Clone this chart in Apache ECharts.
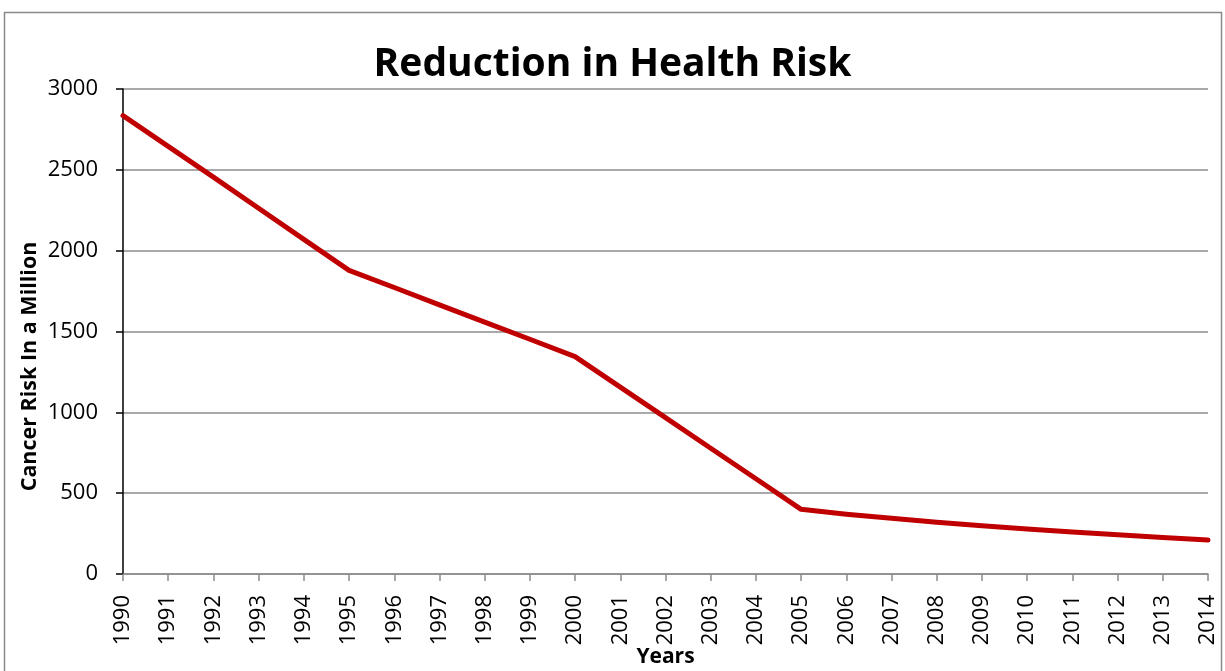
<!DOCTYPE html>
<html>
<head>
<meta charset="utf-8">
<script src="https://cdn.jsdelivr.net/npm/echarts@6/dist/echarts.min.js"></script>
<style>html,body{margin:0;padding:0;background:#fff;}#c{width:1225px;height:671px;}</style>
</head>
<body>
<div id="c"></div>
<script>
const years = ['1990','1991','1992','1993','1994','1995','1996','1997','1998','1999','2000','2001','2002','2003','2004','2005','2006','2007','2008','2009','2010','2011','2012','2013','2014'];
const cancerRisk = [2835, 2645, 2455, 2262, 2070, 1878, 1772, 1665, 1558, 1452, 1345, 1156, 967, 778, 589, 400, 370, 345, 320, 298, 278, 260, 243, 226, 210];
const yTicks = {min: 0, max: 3000, interval: 500};

const chart = echarts.init(document.getElementById('c'));
chart.setOption({
  animation: false,
  backgroundColor: '#fff',
  textStyle: {fontFamily: 'Open Sans'},
  graphic: [{
    type: 'rect', silent: true,
    shape: {x: 4.5, y: 12.5, width: 1217, height: 700},
    style: {fill: 'none', stroke: '#8a8a8a', lineWidth: 1.5}
  }],
  title: {
    text: 'Reduction in Health Risk',
    left: 'center', top: 40,
    textStyle: {fontFamily: 'Open Sans', fontSize: 39, fontWeight: 'bold', color: '#000'}
  },
  grid: {left: 123, right: 17, top: 89, bottom: 97, containLabel: false, outerBoundsMode: 'none'},
  xAxis: {
    type: 'category', data: years, boundaryGap: false,
    name: 'Years', nameLocation: 'middle', nameGap: 73, nameMoveOverlap: false,
    nameTextStyle: {fontFamily: 'Open Sans', fontSize: 21, fontWeight: 'bold', color: '#000'},
    axisLine: {lineStyle: {color: '#8c8c8c', width: 1.5}},
    axisTick: {show: true, interval: 0, length: 7, lineStyle: {color: '#8c8c8c', width: 1.5}},
    axisLabel: {interval: 0, rotate: 90, margin: 21, fontSize: 22, color: '#000'},
    splitLine: {show: false}
  },
  yAxis: {
    type: 'value', min: yTicks.min, max: yTicks.max, interval: yTicks.interval,
    name: 'Cancer Risk In a Million', nameLocation: 'middle', nameGap: 82, nameMoveOverlap: false,
    nameTextStyle: {fontFamily: 'Open Sans', fontSize: 21.5, fontWeight: 'bold', color: '#000', padding: [0, 70, 0, 0]},
    axisLine: {show: true, lineStyle: {color: '#000', width: 1.5}},
    axisTick: {show: true, length: 7, lineStyle: {color: '#000', width: 1.5}},
    axisLabel: {margin: 25, fontSize: 22, color: '#000', formatter: v => String(v)},
    splitLine: {show: true, lineStyle: {color: '#8c8c8c', width: 1.5}}
  },
  series: [{
    type: 'line', data: cancerRisk, showSymbol: false, symbol: 'none',
    lineStyle: {color: '#C00000', width: 5, cap: 'round', join: 'round'}
  }]
});
</script>
</body>
</html>
